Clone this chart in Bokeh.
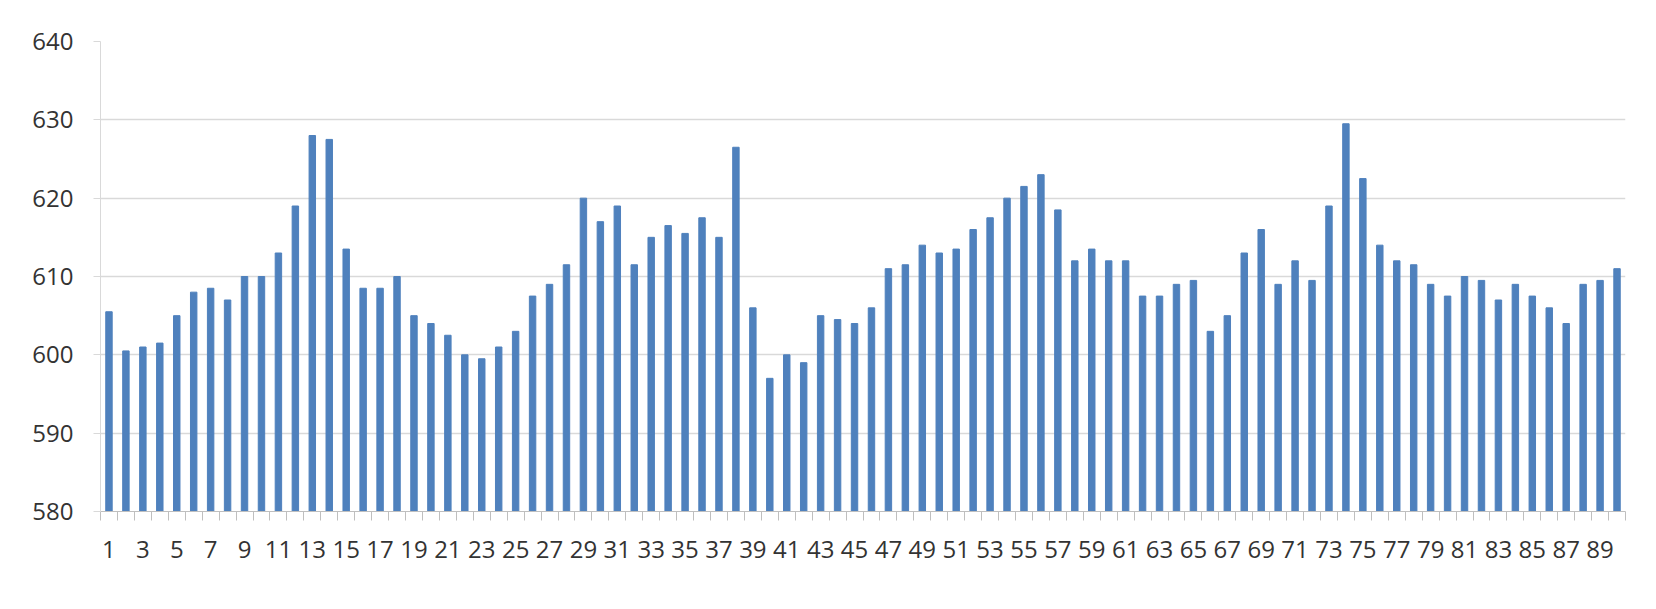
from bokeh.plotting import figure
from bokeh.models import FixedTicker, Range1d, ColumnDataSource
from bokeh.embed import file_html
from bokeh.resources import INLINE

days = list(range(1, 91))
values = [
    605.5, 600.5, 601.0, 601.5, 605.0, 608.0, 608.5, 607.0, 610.0, 610.0,
    613.0, 619.0, 628.0, 627.5, 613.5, 608.5, 608.5, 610.0, 605.0, 604.0,
    602.5, 600.0, 599.5, 601.0, 603.0, 607.5, 609.0, 611.5, 620.0, 617.0,
    619.0, 611.5, 615.0, 616.5, 615.5, 617.5, 615.0, 626.5, 606.0, 597.0,
    600.0, 599.0, 605.0, 604.5, 604.0, 606.0, 611.0, 611.5, 614.0, 613.0,
    613.5, 616.0, 617.5, 620.0, 621.5, 623.0, 618.5, 612.0, 613.5, 612.0,
    612.0, 607.5, 607.5, 609.0, 609.5, 603.0, 605.0, 613.0, 616.0, 609.0,
    612.0, 609.5, 619.0, 629.5, 622.5, 614.0, 612.0, 611.5, 609.0, 607.5,
    610.0, 609.5, 607.0, 609.0, 607.5, 606.0, 604.0, 609.0, 609.5, 611.0,
]
y_ticks = [580, 590, 600, 610, 620, 630, 640]
x_label_ticks = list(range(1, 90, 2))

src = ColumnDataSource(data=dict(x=days, top=values))

p = figure(width=1640, height=593, output_backend="svg", toolbar_location=None,
           x_range=Range1d(0.5, 90.5), y_range=Range1d(580, 640),
           min_border_left=100, min_border_right=15, min_border_top=41,
           min_border_bottom=82)
p.outline_line_color = None
p.background_fill_color = "white"
p.border_fill_color = "white"

p.vbar(x="x", top="top", bottom=580, width=0.38, color="#4F81BD", source=src)

p.xgrid.grid_line_color = None
p.ygrid.grid_line_color = "#D9D9D9"
p.ygrid.grid_line_width = 1.5

font = "Open Sans"
p.xaxis.ticker = FixedTicker(ticks=x_label_ticks,
                             minor_ticks=[i + 0.5 for i in range(91)])
p.xaxis.major_tick_line_color = None
p.xaxis.major_tick_out = 0
p.xaxis.major_tick_in = 0
p.xaxis.minor_tick_out = 9
p.xaxis.minor_tick_in = 0
p.xaxis.minor_tick_line_color = "#BFBFBF"
p.xaxis.axis_line_color = "#BFBFBF"
p.xaxis.major_label_standoff = 20

p.yaxis.ticker = FixedTicker(ticks=y_ticks)
p.yaxis.major_tick_out = 7
p.yaxis.major_tick_in = 0
p.yaxis.major_tick_line_color = "#D9D9D9"
p.yaxis.minor_tick_line_color = None
p.yaxis.axis_line_color = "#D9D9D9"
p.yaxis.major_label_standoff = 20

for ax in (p.xaxis, p.yaxis):
    ax.major_label_text_font = font
    ax.major_label_text_font_size = "24px"
    ax.major_label_text_color = "#333333"

open("out.html", "w").write(file_html(p, INLINE))
